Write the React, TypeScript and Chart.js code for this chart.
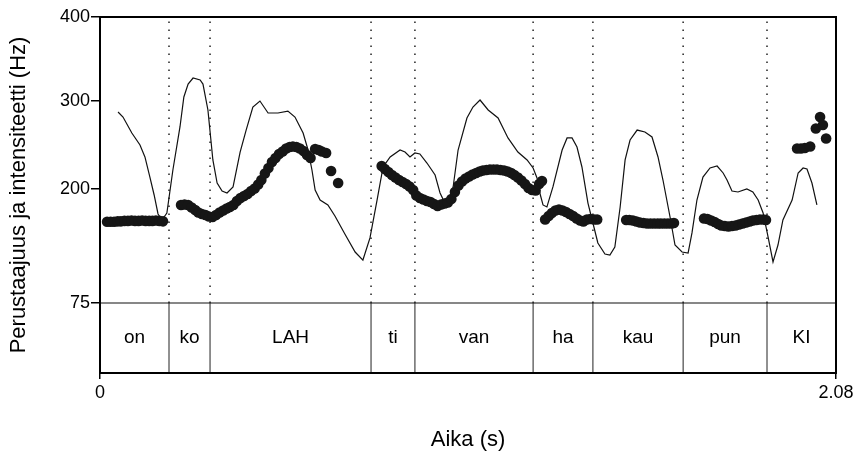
import React, { useEffect, useRef } from "react";
import { Chart, registerables, LinearScale } from "chart.js";

Chart.register(...registerables);

// ---- data (time in s, values in Hz) ----
const INTENSITY_TIME = [
  0.051, 0.065, 0.090, 0.113, 0.127, 0.141, 0.153, 0.164, 0.175, 0.189,
  0.206, 0.226, 0.237, 0.249, 0.263, 0.283, 0.291, 0.305, 0.319, 0.331,
  0.345, 0.359, 0.376, 0.396, 0.413, 0.432, 0.452, 0.475, 0.503, 0.531,
  0.551, 0.574, 0.588, 0.599, 0.608, 0.622, 0.644, 0.664, 0.692, 0.721,
  0.743, 0.763, 0.783, 0.800, 0.820, 0.848, 0.862, 0.876, 0.890, 0.904,
  0.924, 0.947, 0.961, 0.972, 0.983, 0.998, 1.012, 1.037, 1.054, 1.074,
  1.097, 1.125, 1.153, 1.181, 1.207, 1.224, 1.235, 1.243, 1.252, 1.263,
  1.280, 1.306, 1.320, 1.334, 1.348, 1.362, 1.379, 1.393, 1.407, 1.427,
  1.441, 1.455, 1.470, 1.484, 1.498, 1.518, 1.540, 1.560, 1.577, 1.591,
  1.611, 1.625, 1.645, 1.662, 1.673, 1.687, 1.704, 1.724, 1.744, 1.761,
  1.772, 1.786, 1.803, 1.828, 1.845, 1.860, 1.874, 1.888, 1.902, 1.916,
  1.930, 1.956, 1.973, 1.987, 1.998, 2.012, 2.026,
];
const INTENSITY_VALUE = [
  287.5, 281.8, 263.6, 250, 236.4, 213.6, 193.4, 172.6, 166, 173.7,
  221.6, 270.5, 304.8, 320.2, 327.4, 325, 320.2, 289.8, 233, 206.8,
  197.8, 195.6, 202.3, 242, 267, 293.2, 300, 286.4, 286.4, 288.6,
  281.8, 263.6, 244.3, 221.6, 198.9, 187.9, 182.5, 170.4, 150.7, 130.9,
  122.1, 146.3, 187.9, 225, 236.4, 244.3, 242, 236.4, 240.9, 239.8,
  229.5, 215.9, 195.6, 186.8, 182.5, 202.3, 244.3, 280.7, 293.2, 301.2,
  289.8, 280.7, 258, 242, 233, 223.9, 212.5, 195.6, 182.5, 180.3,
  202.3, 244.3, 258, 258, 247.7, 225, 184.6, 162.7, 140.8, 128.7,
  127.6, 136.4, 180.3, 233, 255.7, 267, 264.8, 259.1, 236.4, 210.2,
  169.3, 138.6, 130.9, 129.8, 151.8, 187.9, 213.6, 223.9, 226.1, 218.2,
  210.2, 197.8, 196.7, 200, 196.7, 187.9, 173.7, 147.4, 120, 138.6,
  166, 187.9, 218.2, 223.9, 222.7, 206.8, 182.5,
];

const PITCH_TIME = [
  // on
  0.020, 0.030, 0.040, 0.050, 0.059, 0.069, 0.079, 0.089, 0.099, 0.109,
  0.119, 0.129, 0.139, 0.148, 0.158, 0.168, 0.178,
  // ko / LAH
  0.229, 0.239, 0.249, 0.259, 0.269, 0.278, 0.288, 0.298, 0.308, 0.318,
  0.328, 0.338, 0.348, 0.358, 0.367, 0.377, 0.387, 0.397, 0.407, 0.417,
  0.427, 0.437, 0.447, 0.456, 0.466, 0.476, 0.486, 0.496, 0.506, 0.516,
  0.526, 0.536, 0.545, 0.555, 0.565, 0.575, 0.585, 0.595, 0.608, 0.618,
  0.627, 0.639, 0.653, 0.673,
  // ti / van
  0.796, 0.805, 0.815, 0.825, 0.835, 0.845, 0.855, 0.865, 0.875, 0.885,
  0.894, 0.904, 0.914, 0.924, 0.934, 0.944, 0.954, 0.964, 0.974, 0.983,
  0.993, 1.003, 1.013, 1.023, 1.033, 1.043, 1.053, 1.063, 1.073, 1.082,
  1.092, 1.102, 1.112, 1.122, 1.132, 1.142, 1.152, 1.162, 1.171, 1.181,
  1.191, 1.201, 1.211, 1.221, 1.231, 1.241, 1.249,
  // ha
  1.258, 1.268, 1.277, 1.287, 1.297, 1.307, 1.317, 1.327, 1.337, 1.347,
  1.357, 1.366, 1.376, 1.386, 1.396, 1.405,
  // kau
  1.487, 1.496, 1.506, 1.516, 1.526, 1.536, 1.546, 1.556, 1.566, 1.576,
  1.585, 1.595, 1.605, 1.615, 1.622,
  // pun
  1.707, 1.717, 1.727, 1.737, 1.747, 1.756, 1.766, 1.776, 1.786, 1.796,
  1.806, 1.816, 1.826, 1.836, 1.845, 1.855, 1.865, 1.875, 1.882,
  // KI
  1.970, 1.981, 1.992, 2.007, 2.023, 2.035, 2.043, 2.052,
];
const PITCH_HZ = [
  164, 164, 164, 164.5, 164.5, 165, 165, 165.5, 165, 165,
  165.5, 165, 165, 165, 165.5, 165, 164.5,
  182.5, 183, 182.5, 179.7, 177, 174.2, 172.6, 171.5, 169.8, 169.3,
  171.5, 174.2, 176.4, 178.6, 180.3, 182.5, 186.8, 190.1, 192.3, 194.5,
  197.8, 200.6, 205.1, 210.2, 217.6, 223.9, 230.7, 235.2, 239.8, 242.6,
  246, 247.7, 248.3, 247.7, 246, 243.2, 238.6, 235.2, 245.5, 244.3,
  242.6, 240.9, 220.5, 206.8,
  226.1, 222.7, 219.3, 215.9, 213.1, 210.2, 208, 205.7, 202.8, 198.9,
  192.9, 190.1, 188.5, 186.8, 185.7, 183.6, 181.4, 183, 184.1, 185.2,
  189, 196.7, 204, 208.5, 211.9, 214.2, 216.5, 218.2, 219.9, 221,
  221.6, 222.2, 222.2, 222.2, 221.6, 221, 219.9, 218.2, 215.9, 213.1,
  209.7, 205.7, 201.2, 198.9, 198.4, 205.7, 209.1,
  166.6, 170.4, 173.7, 176.4, 177.5, 176.4, 174.8, 172.6, 170.4, 167.7,
  165.5, 164.4, 166.6, 167.1, 166.6, 166.6,
  166, 166, 165.5, 164.4, 163.3, 162.7, 162.2, 162.2, 162.2, 162.2,
  162.2, 162.2, 162.2, 162.2, 162.7,
  167.7, 167.1, 165.5, 163.8, 161.6, 160, 159.4, 158.9, 159.4, 160,
  161.1, 162.2, 163.3, 164.4, 165.5, 166, 166.6, 166.6, 166,
  246, 246, 246.6, 248.3, 268.8, 281.8, 272.7, 257.4,
];

const SYLLABLES = ["on", "ko", "LAH", "ti", "van", "ha", "kau", "pun", "KI"];
const TIER_BOUNDS = [0, 0.195, 0.311, 0.766, 0.89, 1.224, 1.393, 1.648, 1.885, 2.08];
const TIER_TOP = 75;
const TIER_LABEL_LEVEL = 37.5;
const Y_TICKS = [75, 200, 300, 400];
const X_TICKS = [0, 2.08];
const X_MIN = 0;
const X_MAX = 2.08;
const Y_MIN = 0;
const Y_MAX = 400;

// axis calibration of the original figure (value -> fraction of axis height)
const Y_KNOT_VALUES = [0, 75, 200, 300, 400];
const Y_KNOT_FRACTIONS = [0, 0.1966, 0.5169, 0.764, 1];

function interp(v: number, xs: number[], ys: number[]): number {
  let i = 0;
  if (v <= xs[0]) i = 0;
  else if (v >= xs[xs.length - 1]) i = xs.length - 2;
  else {
    while (i < xs.length - 2 && v > xs[i + 1]) i++;
  }
  const t = (v - xs[i]) / (xs[i + 1] - xs[i]);
  return ys[i] + t * (ys[i + 1] - ys[i]);
}

class CalibratedScale extends LinearScale {
  static id = "calibrated";
  static defaults = LinearScale.defaults;
  getPixelForValue(value: any) {
    if (value === null || value === undefined || isNaN(value)) return NaN;
    return this.getPixelForDecimal(interp(value, Y_KNOT_VALUES, Y_KNOT_FRACTIONS));
  }
  getValueForPixel(pixel: number) {
    return interp(this.getDecimalForPixel(pixel), Y_KNOT_FRACTIONS, Y_KNOT_VALUES);
  }
}
Chart.register(CalibratedScale as any);

const FONT = '"Liberation Sans", Arial, Helvetica, sans-serif';

const framePlugin = {
  id: "frameAndTier",
  afterDatasetsDraw(chart: any) {
    const { ctx, chartArea, scales } = chart;
    const { left, top, right, bottom } = chartArea;
    ctx.save();
    ctx.strokeStyle = "#000";
    ctx.lineWidth = 2;
    ctx.strokeRect(left, top, right - left, bottom - top);
    ctx.fillStyle = "#000";
    ctx.font = `19px ${FONT}`;
    ctx.textAlign = "center";
    ctx.textBaseline = "middle";
    const yy = scales.y.getPixelForValue(TIER_LABEL_LEVEL);
    SYLLABLES.forEach((s, i) => {
      const cx = scales.x.getPixelForValue((TIER_BOUNDS[i] + TIER_BOUNDS[i + 1]) / 2);
      ctx.fillText(s, cx, yy);
    });
    ctx.restore();
  },
};

export default function App() {
  const ref = useRef<HTMLCanvasElement | null>(null);
  useEffect(() => {
    if (!ref.current) return;
    const inner = TIER_BOUNDS.slice(1, -1);
    const datasets: any[] = [
      {
        label: "F0",
        data: PITCH_TIME.map((t, i) => ({ x: t, y: PITCH_HZ[i] })),
        showLine: false,
        pointRadius: 5.3,
        pointBackgroundColor: "#161616",
        pointBorderWidth: 0,
        order: 0,
      },
      {
        label: "Intensity",
        data: INTENSITY_TIME.map((t, i) => ({ x: t, y: INTENSITY_VALUE[i] })),
        showLine: true,
        borderColor: "#111",
        borderWidth: 1.2,
        pointRadius: 0,
        tension: 0,
        order: 1,
      },
      {
        label: "tier",
        data: [
          { x: X_MIN, y: TIER_TOP },
          { x: X_MAX, y: TIER_TOP },
        ],
        showLine: true,
        borderColor: "#111",
        borderWidth: 1.2,
        pointRadius: 0,
        order: 2,
      },
      ...inner.map((b) => ({
        label: "bound",
        data: [
          { x: b, y: Y_MIN },
          { x: b, y: TIER_TOP },
        ],
        showLine: true,
        borderColor: "#222",
        borderWidth: 1,
        pointRadius: 0,
        order: 2,
      })),
      ...inner.map((b) => ({
        label: "dotted",
        data: [
          { x: b, y: TIER_TOP },
          { x: b, y: Y_MAX },
        ],
        showLine: true,
        borderColor: "#222",
        borderWidth: 1.5,
        borderDash: [1.5, 6.5],
        pointRadius: 0,
        order: 3,
      })),
    ];

    const chart = new Chart(ref.current, {
      type: "scatter",
      data: { datasets },
      plugins: [framePlugin],
      options: {
        animation: false,
        responsive: false,
        events: [],
        layout: { padding: { left: 0, top: 17, right: 22, bottom: 0 } },
        plugins: { legend: { display: false }, tooltip: { enabled: false } },
        scales: {
          x: {
            type: "linear",
            min: X_MIN,
            max: X_MAX,
            afterBuildTicks: (s: any) => {
              s.ticks = X_TICKS.map((v) => ({ value: v }));
            },
            afterFit: (s: any) => {
              s.height = 86;
            },
            ticks: {
              autoSkip: false,
              maxRotation: 0,
              padding: 3,
              color: "#000",
              font: { family: FONT, size: 18 },
              callback: (v: any) => (v === 0 ? "0" : Number(v).toFixed(2)),
            },
            grid: { drawOnChartArea: false, drawTicks: true, tickLength: 6, color: "#000", lineWidth: 1.5 },
            border: { display: false },
            title: {
              display: true,
              text: "Aika (s)",
              color: "#000",
              font: { family: FONT, size: 22 },
              padding: { top: 0, bottom: 6 },
            },
          },
          y: {
            type: "calibrated" as any,
            min: Y_MIN,
            max: Y_MAX,
            afterBuildTicks: (s: any) => {
              s.ticks = Y_TICKS.map((v) => ({ value: v }));
            },
            afterFit: (s: any) => {
              s.width = 100;
            },
            ticks: {
              autoSkip: false,
              padding: 1,
              color: "#000",
              font: { family: FONT, size: 18 },
              callback: (v: any) => String(v),
            },
            grid: { drawOnChartArea: false, drawTicks: true, tickLength: 9, color: "#000", lineWidth: 1.5 },
            border: { display: false },
            title: {
              display: true,
              text: "Perustaajuus ja intensiteetti (Hz)",
              color: "#000",
              font: { family: FONT, size: 22 },
              padding: { top: 6, bottom: 0 },
            },
          },
        },
      } as any,
    });
    return () => chart.destroy();
  }, []);

  return (
    <div style={{ position: "fixed", left: 0, top: 0, width: 858, height: 459, background: "#fff" }}>
      <canvas ref={ref} width={858} height={459} style={{ display: "block" }} />
    </div>
  );
}
